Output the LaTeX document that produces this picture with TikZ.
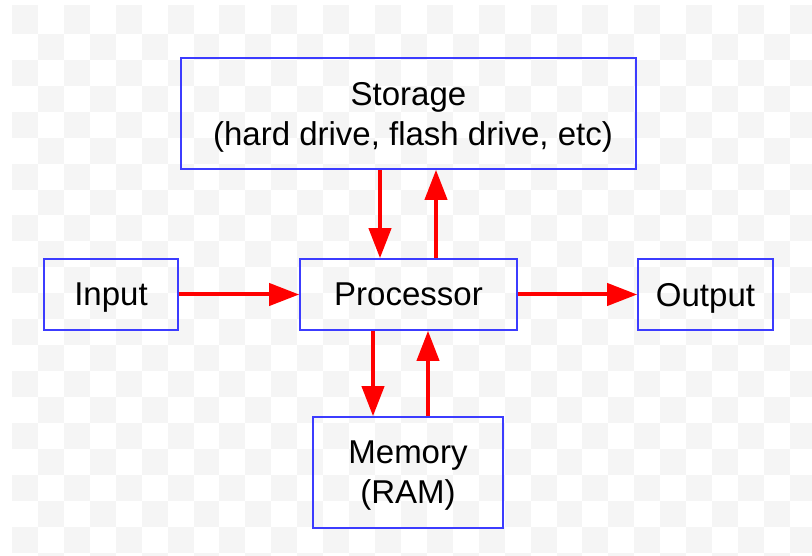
\documentclass[tikz,border=0pt]{standalone}
\usepackage{fontspec}
\setmainfont{Liberation Sans}
\usetikzlibrary{arrows.meta}
\definecolor{boxblue}{RGB}{60,60,255}
\definecolor{checkgray}{RGB}{245,245,245}
\tikzset{
  box/.style={draw=boxblue, line width=1.6pt, inner sep=0pt, align=center,
    font=\fontsize{33}{40}\selectfont, text depth=0pt},
  arr/.style={draw=red, line width=4pt, -{Triangle[width=22pt,length=30pt]}, red}
}
\begin{document}
\begin{tikzpicture}[x=1pt,y=-1pt]
\useasboundingbox (0,0) rectangle (812,556);
% faint checkerboard background
\begin{scope}
\clip (12,5) rectangle (812,555);
\foreach \i in {0,...,30}{
  \foreach \j in {0,...,21}{
    \pgfmathtruncatemacro\p{mod(\i+\j,2)}
    \ifnum\p=0
      \pgfmathsetmacro\yt{ifthenelse(\j==0,5,8+25.93*\j)}
      \fill[checkgray] ({12+25.93*\i},\yt) rectangle ({12+25.93*(\i+1)},{8+25.93*(\j+1)});
    \fi
  }
}
\end{scope}
% boxes
\node[box, minimum width=455pt, minimum height=111pt] (st) at (408.5,113.5)
  {Storage\\\hspace*{9pt}(hard drive, flash drive, etc)};
\node[box, minimum width=217pt, minimum height=71pt] (pr) at (408.5,294.5) {Processor};
\node[box, minimum width=190pt, minimum height=111pt] (mem) at (408,472.5) {Memory\\(RAM)};
\node[box, minimum width=134pt, minimum height=71pt] (in) at (111,294.5) {Input};
\node[box, minimum width=135pt, minimum height=71pt] (out) at (705.5,294.5) {Output};
% connectors
\draw[arr] ([xshift=-28.5pt]st.south) -- ([xshift=-28.5pt]st.south |- pr.north);
\draw[arr] ([xshift=27.5pt]pr.north) -- ([xshift=27.5pt]pr.north |- st.south);
\draw[arr] ([xshift=-35.5pt]pr.south) -- ([xshift=-35.5pt]pr.south |- mem.north);
\draw[arr] ([xshift=19.5pt]pr.south |- mem.north) -- ([xshift=19.5pt]pr.south);
\draw[arr] (in.east) -- (pr.west);
\draw[arr] (pr.east) -- (out.west);
\end{tikzpicture}
\end{document}
